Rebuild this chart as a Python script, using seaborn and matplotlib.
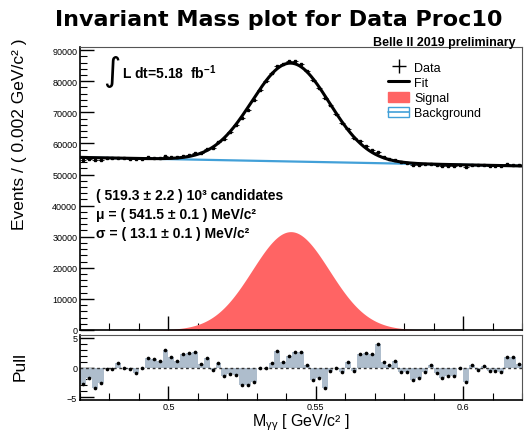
import numpy as np
import matplotlib
matplotlib.use("Agg")
import matplotlib.pyplot as plt
from matplotlib.lines import Line2D
from matplotlib.patches import Patch
from matplotlib.ticker import MultipleLocator, FuncFormatter
import seaborn as sns

# ---- fit results ----
n_signal = 519.3e3          # signal yield
n_signal_err = 2.2e3
mu = 0.5415                 # GeV/c^2
mu_err = 0.0001
sigma = 0.0131              # GeV/c^2
sigma_err = 0.0001
lumi = 5.18                 # fb^-1

# ---- binning ----
x_min, x_max, bin_width = 0.47, 0.62, 0.002

# linear background, events per bin at the two ends of the range
bkg_ends = [55500.0, 52750.0]

# pull of each bin, (data - fit) / error
pulls = [-2.8, -1.8, -3.5, -2.6, -0.2, -0.2, 0.7, -0.1, -0.3, -0.9,
         0.0, 1.6, 1.5, 1.1, 3.0, 1.8, 1.1, 2.3, 2.5, 2.6,
         0.6, 1.6, -0.4, 0.7, -1.4, -1.1, -1.2, -2.9, -2.9, -2.4,
         -0.1, 0.0, 0.8, 2.8, 0.9, 1.9, 2.6, 2.6, 0.4, -2.1,
         -1.8, -3.5, -0.6, 0.0, -0.8, 0.9, -0.6, 2.3, 2.5, 2.3,
         4.0, 1.0, 0.4, 1.1, -0.7, -0.7, -2.1, -1.7, -0.7, 0.4,
         -0.9, -1.8, -1.4, -1.4, 0.0, -2.4, 0.4, -0.4, 0.2, -0.6,
         -0.6, -0.8, 1.8, 1.7, 0.6]

# ---- styles ----
sig_color = "#ff6464"
bkg_color = "#42a0d8"
pull_color = "#aebdcc"

sns.set_theme(style="ticks")
plt.rcParams["font.family"] = ["Liberation Sans", "DejaVu Sans"]
plt.rcParams["text.color"] = "black"
plt.rcParams["mathtext.fontset"] = "custom"
plt.rcParams["mathtext.rm"] = "Liberation Sans"
plt.rcParams["mathtext.it"] = "Liberation Sans:italic"
plt.rcParams["mathtext.bf"] = "Liberation Sans:bold"


def signal(x):
    amp = n_signal * bin_width / (sigma * np.sqrt(2 * np.pi))
    return amp * np.exp(-0.5 * ((x - mu) / sigma) ** 2)


def background(x):
    return np.interp(x, [x_min, x_max], bkg_ends)


n_bins = len(pulls)
centers = x_min + bin_width * (np.arange(n_bins) + 0.5)
pull_arr = np.asarray(pulls)
fit_at_bins = signal(centers) + background(centers)
data_err = np.sqrt(fit_at_bins)
data = fit_at_bins + pull_arr * data_err

xf = np.linspace(x_min, x_max, 600)

W, H = 526, 435
fig = plt.figure(figsize=(W / 100, H / 100), dpi=100)
fig.patch.set_facecolor("white")


def px_axes(left, top, right, bottom):
    return fig.add_axes([left / W, 1 - bottom / H, (right - left) / W, (bottom - top) / H])


ax = px_axes(80, 48, 522, 331)
axp = px_axes(80, 336, 522, 401)

# ---- main panel ----
ax.fill_between(xf, 0, signal(xf), color=sig_color, lw=0, zorder=1)
sns.lineplot(x=xf, y=background(xf), ax=ax, color=bkg_color, lw=1.6, zorder=2)
sns.lineplot(x=xf, y=signal(xf) + background(xf), ax=ax, color="black", lw=2.2, zorder=3)
ax.errorbar(centers, data, xerr=bin_width / 2, yerr=data_err, fmt="s", ms=1.6,
            color="black", elinewidth=0.6, capsize=0, zorder=4)

ax.set_xlim(x_min, x_max)
ax.set_ylim(0, 91000)
ax.yaxis.set_major_locator(MultipleLocator(10000))
ax.yaxis.set_minor_locator(MultipleLocator(2000))
ax.xaxis.set_major_locator(MultipleLocator(0.05))
ax.xaxis.set_minor_locator(MultipleLocator(0.01))
ax.tick_params(axis="x", labelbottom=False)

# ---- pull panel ----
axp.bar(centers, pull_arr, width=bin_width, color=pull_color, lw=0, zorder=1)
axp.axhline(0, color="#333333", lw=1.0, ls=(0, (2, 2)), zorder=2)
sns.scatterplot(x=centers, y=pull_arr, ax=axp, s=7, color="black", linewidth=0, zorder=3)
axp.set_xlim(x_min, x_max)
axp.set_ylim(-5.5, 5.5)
axp.yaxis.set_major_locator(MultipleLocator(5))
axp.yaxis.set_minor_locator(MultipleLocator(1))
axp.xaxis.set_major_locator(MultipleLocator(0.05))
axp.xaxis.set_minor_locator(MultipleLocator(0.01))
axp.xaxis.set_major_formatter(FuncFormatter(lambda v, p: f"{v:g}"))
axp.yaxis.set_major_formatter(FuncFormatter(lambda v, p: f"{v:g}".replace("-", "\u2212")))

for a in (ax, axp):
    a.set_xlabel("")
    a.set_ylabel("")
    a.tick_params(which="both", direction="in", top=False, right=False,
                  labelsize=6.5, pad=2, colors="black")
    a.tick_params(which="major", length=10, width=1.0)
    a.tick_params(which="minor", length=5, width=0.8)
    for side in ("left", "bottom"):
        a.spines[side].set_color("black")
        a.spines[side].set_linewidth(1.2)
    for side in ("top", "right"):
        a.spines[side].set_color("#555555")
        a.spines[side].set_linewidth(0.8)
axp.tick_params(axis="x", pad=1.5)

# ---- texts ----
fig.text(279 / W, 1 - 20 / H, "Invariant Mass plot for Data Proc10",
         ha="center", va="center", fontsize=16, fontweight="bold",
         family=["DejaVu Sans"])
fig.text(516 / W, 1 - 43 / H, "Belle II 2019 preliminary",
         ha="right", va="center", fontsize=9, fontweight="bold")

fig.text(20 / W, 1 - 38 / H, "Events / ( 0.002 GeV/c\u00b2 )",
         rotation=90, ha="center", va="top", fontsize=12.5)
fig.text(20 / W, 1 - 367 / H, "Pull", rotation=90, ha="center", va="center", fontsize=12.5)
fig.text(301 / W, 1 - 426 / H, "M$_{\\mathrm{\u03b3\u03b3}}$ [ GeV/c\u00b2 ]",
         ha="center", va="baseline", fontsize=11.5)

fig.text(112 / W, 1 - 71 / H, "\u222b", ha="center", va="center", fontsize=24,
         family=["DejaVu Sans"])
fig.text(122 / W, 1 - 73 / H, f"L dt={lumi:.2f}  fb" + r"$^{\mathbf{-1}}$",
         ha="left", va="center", fontsize=10, fontweight="bold")

stats_lines = [
    f"( {n_signal / 1e3:.1f} \u00b1 {n_signal_err / 1e3:.1f} ) 10\u00b3 candidates",
    f"\u03bc = ( {mu * 1e3:.1f} \u00b1 {mu_err * 1e3:.1f} ) MeV/c\u00b2",
    f"\u03c3 = ( {sigma * 1e3:.1f} \u00b1 {sigma_err * 1e3:.1f} ) MeV/c\u00b2",
]
for line, ypx in zip(stats_lines, (196, 215, 234)):
    fig.text(96 / W, 1 - ypx / H, line, ha="left", va="center",
             fontsize=10, fontweight="bold")

# ---- legend ----
handles = [
    Line2D([], [], color="black", marker="+", ms=10, mew=1.0, ls="none"),
    Line2D([], [], color="black", lw=2.2),
    Patch(facecolor=sig_color, edgecolor=sig_color),
    (Patch(facecolor="white", edgecolor=bkg_color, lw=1.0),
     Line2D([], [], color=bkg_color, lw=1.2)),
]
labels = ["Data", "Fit", "Signal", "Background"]
fig.legend(handles, labels, loc="upper left", bbox_to_anchor=(388 / W, 1 - 62 / H),
           frameon=False, fontsize=9, handlelength=1.7, handleheight=0.9,
           handletextpad=0.4, labelspacing=0.22, borderpad=0, borderaxespad=0)

fig.savefig("out.png", dpi=100, facecolor="white")
